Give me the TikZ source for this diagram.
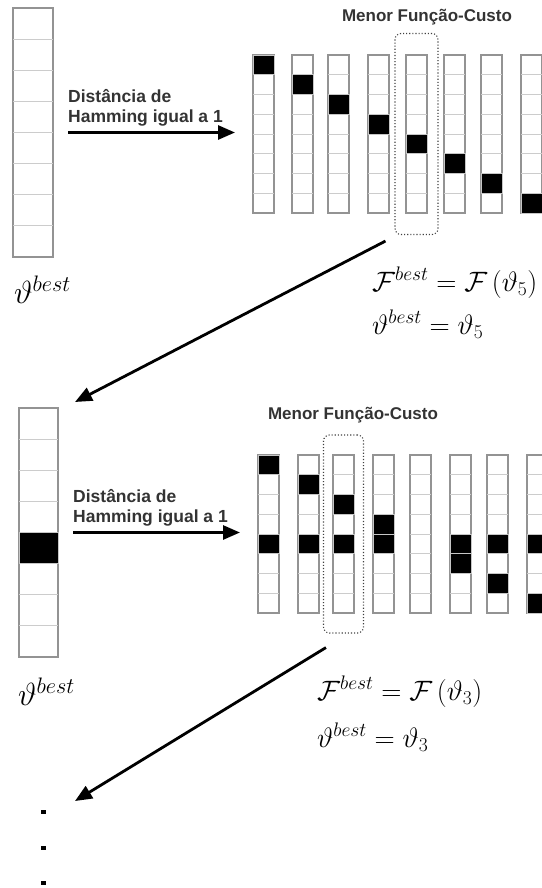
\documentclass[tikz,border=0pt]{standalone}
\usepackage{fix-cm}
\usepackage{fontspec}
\newfontfamily\arialfont{Liberation Sans}
\usetikzlibrary{arrows.meta,fit}

% one column of 8 bits: name, left, top, width, cell height
\newcommand{\bitcol}[5]{%
  \node[bitcol, minimum width=#4pt, minimum height=8*#5pt, anchor=north west] (#1) at (#2,#3) {};
  \foreach \k in {1,...,7}
    {\draw[cellsep] ([yshift={-\k*#5pt}]#1.north west) -- ([yshift={-\k*#5pt}]#1.north east);}
}

\begin{document}
\begin{tikzpicture}[x=1pt,y=-1pt,
    bitcol/.style={draw=gray!85, line width=1.2pt, inner sep=0pt, outer sep=0pt},
    cellsep/.style={gray!40, line width=0.9pt},
    bit/.style={fill=black, draw=gray!45, line width=0.8pt},
    pick/.style={draw=black!75, dotted, line width=1.1pt, rounded corners=6pt},
    lbl/.style={font=\arialfont\bfseries\fontsize{17.5}{20}\selectfont, text=black!80, align=left, inner sep=0pt},
    ttl/.style={font=\arialfont\bfseries\fontsize{17}{20}\selectfont, text=black!80, inner sep=0pt},
    eq/.style={font=\fontsize{28}{32}\selectfont, inner sep=0pt, anchor=base west},
    arr/.style={-{Triangle[length=17pt,width=14pt]}, line width=2.8pt}]
  \useasboundingbox (0,0) rectangle (541,888);

  % first step
  \bitcol{left1}{13}{8}{40}{31.125}
  \foreach \n/\x in {t1/253,t2/292,t3/328,t4/368,t5/406,t6/444,t7/481,t8/521}
    {\bitcol{\n}{\x}{55}{21}{19.75}}
  \foreach \n/\k in {t1/0,t2/1,t3/2,t4/3,t5/4,t6/5,t7/6,t8/7}
    {\filldraw[bit] ([yshift={-\k*19.75pt}]\n.north west) rectangle ([yshift={-(\k+1)*19.75pt}]\n.north east);}
  \node[pick, fit=(t5), inner xsep=11pt, inner ysep=21.5pt] (sel1) {};
  \node[ttl] (min1) at (427,17) {Menor Função-Custo};
  \draw[arr, shorten <=15pt, shorten >=18pt] (left1.east) -- (left1.east -| t1.west);
  \node[lbl, anchor=south west] (ham1) at ([xshift=15pt,yshift=6pt]left1.east) {Distância de\\Hamming igual a 1};
  \node[eq, font=\fontsize{32}{36}\selectfont] (best1) at (14,303) {$\vartheta^{best}$};
  \node[eq] (fbest1) at (372,291) {$\mathcal{F}^{best}=\mathcal{F}\left(\vartheta_5\right)$};
  \node[eq] (tbest1) at (372,334) {$\vartheta^{best}=\vartheta_5$};

  % second step
  \bitcol{left2}{19}{408}{39}{31.125}
  \filldraw[bit] ([yshift={-4*31.125pt}]left2.north west) rectangle ([yshift={-5*31.125pt}]left2.north east);
  \foreach \n/\x in {b1/258,b2/298,b3/333,b4/373,b5/410,b6/450,b7/487,b8/527}
    {\bitcol{\n}{\x}{455}{21}{19.75}}
  \foreach \n/\k in {b1/0,b1/4,b2/1,b2/4,b3/2,b3/4,b4/3,b4/4,b6/4,b6/5,b7/4,b7/6,b8/4,b8/7}
    {\filldraw[bit] ([yshift={-\k*19.75pt}]\n.north west) rectangle ([yshift={-(\k+1)*19.75pt}]\n.north east);}
  \node[pick, fit=(b3), inner xsep=9.5pt, inner ysep=20pt] (sel2) {};
  \node[ttl] (min2) at (353,415) {Menor Função-Custo};
  \draw[arr, shorten <=15pt, shorten >=18pt] (left2.east) -- (left2.east -| b1.west);
  \node[lbl, anchor=south west] (ham2) at ([xshift=15pt,yshift=6pt]left2.east) {Distância de\\Hamming igual a 1};
  \node[eq, font=\fontsize{32}{36}\selectfont] (best2) at (18,705) {$\vartheta^{best}$};
  \node[eq] (fbest2) at (317,700) {$\mathcal{F}^{best}=\mathcal{F}\left(\vartheta_3\right)$};
  \node[eq] (tbest2) at (317,747) {$\vartheta^{best}=\vartheta_3$};

  \draw[arr] ([shift={(-9,6)}]sel1.south west) -- ([shift={(17,-6)}]left2.north east);
  \coordinate (next) at (75,801);
  \draw[arr] ([shift={(3,14)}]sel2.south west) -- (next);
  \foreach \y in {812,848,883}
    {\fill (41,\y-2) rectangle (46,\y+2);}
\end{tikzpicture}
\end{document}
